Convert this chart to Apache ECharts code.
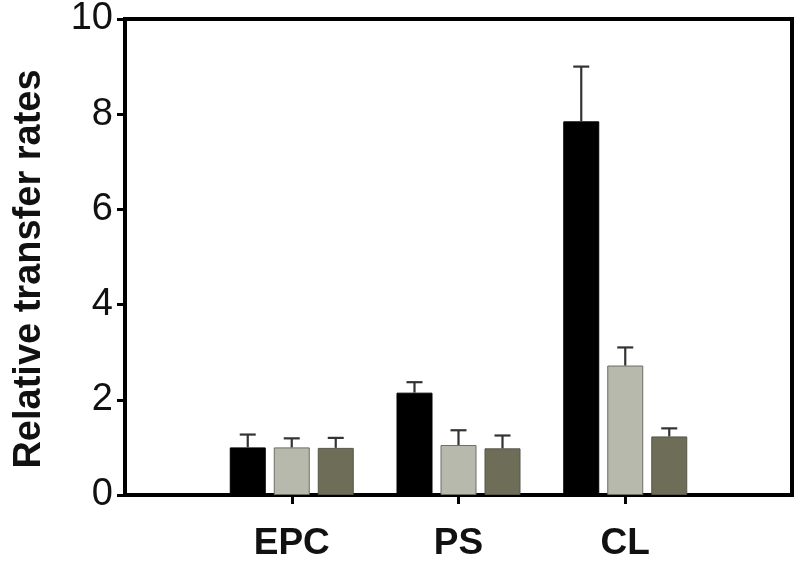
<!DOCTYPE html>
<html>
<head>
<meta charset="utf-8">
<script src="https://cdn.jsdelivr.net/npm/echarts@6/dist/echarts.min.js"></script>
<style>html,body{margin:0;padding:0;background:#fff;}#c{width:800px;height:562px;}</style>
</head>
<body>
<div id="c"></div>
<script>
var categories = ['EPC', 'PS', 'CL'];
var valuesBlack = [1.00, 2.15, 7.85];
var errBlack = [0.27, 0.22, 1.15];
var valuesLight = [1.00, 1.05, 2.72];
var errLight = [0.19, 0.31, 0.38];
var valuesDark = [0.99, 0.98, 1.23];
var errDark = [0.21, 0.27, 0.17];
var yTicks = [0, 2, 4, 6, 8, 10];
var yName = 'Relative transfer rates';

var BAR_W = 36, GAP = 8;
var padCats = [''].concat(categories).concat(['']);
function pad(a) { return [null].concat(a).concat([null]); }

var seriesDefs = [
  { v: valuesBlack, e: errBlack, color: '#000000', border: '#000000' },
  { v: valuesLight, e: errLight, color: '#b7b9ac', border: '#6d6d66' },
  { v: valuesDark, e: errDark, color: '#6e6e58', border: '#55554a' }
];

var series = [];
seriesDefs.forEach(function (d) {
  series.push({
    type: 'bar',
    data: pad(d.v),
    barWidth: BAR_W,
    barGap: (GAP / BAR_W * 100) + '%',
    itemStyle: { color: d.color, borderColor: d.border, borderWidth: 1 },
    silent: true,
    z: 2
  });
});
seriesDefs.forEach(function (d, s) {
  var data = [];
  d.v.forEach(function (val, i) { data.push([i + 1, val, val + d.e[i]]); });
  series.push({
    type: 'custom',
    data: data,
    z: 3,
    silent: true,
    renderItem: function (params, api) {
      var idx = api.value(0);
      var lo = api.coord([idx, api.value(1)]);
      var hi = api.coord([idx, api.value(2)]);
      var x = lo[0] + (s - 1) * (BAR_W + GAP);
      var style = { stroke: '#333333', lineWidth: 2.2 };
      return {
        type: 'group',
        children: [
          { type: 'line', shape: { x1: x, y1: lo[1], x2: x, y2: hi[1] }, style: style },
          { type: 'line', shape: { x1: x - 8, y1: hi[1], x2: x + 8, y2: hi[1] }, style: style }
        ]
      };
    }
  });
});

var chart = echarts.init(document.getElementById('c'), null, { renderer: 'canvas' });
chart.setOption({
  backgroundColor: '#ffffff',
  animation: false,
  grid: { left: 125, right: 8, top: 18, bottom: 65, show: true, borderColor: '#000', borderWidth: 4, backgroundColor: 'transparent' },
  xAxis: {
    type: 'category',
    data: padCats,
    boundaryGap: false,
    axisLine: { lineStyle: { color: '#000', width: 4 } },
    axisTick: { show: true, inside: false, length: 9, lineStyle: { color: '#000', width: 3 },
      interval: function (i) { return i > 0 && i < padCats.length - 1; } },
    axisLabel: { interval: 0, margin: 30, color: '#111', fontFamily: 'Liberation Sans, Arial, sans-serif', fontSize: 37, fontWeight: 'bold' },
    splitLine: { show: false }
  },
  yAxis: {
    type: 'value',
    min: yTicks[0],
    max: yTicks[yTicks.length - 1],
    interval: yTicks[1] - yTicks[0],
    name: yName,
    nameLocation: 'middle',
    nameGap: 76,
    nameTextStyle: { color: '#111', fontFamily: 'Liberation Sans, Arial, sans-serif', fontSize: 38, fontWeight: 'bold', padding: [0, 24, 0, 0] },
    axisLine: { show: true, lineStyle: { color: '#000', width: 4 } },
    axisTick: { show: true, inside: false, length: 8, lineStyle: { color: '#000', width: 3 } },
    axisLabel: { margin: 12, color: '#111', fontFamily: 'Liberation Sans, Arial, sans-serif', fontSize: 38 },
    splitLine: { show: false }
  },
  series: series
});
</script>
</body>
</html>
